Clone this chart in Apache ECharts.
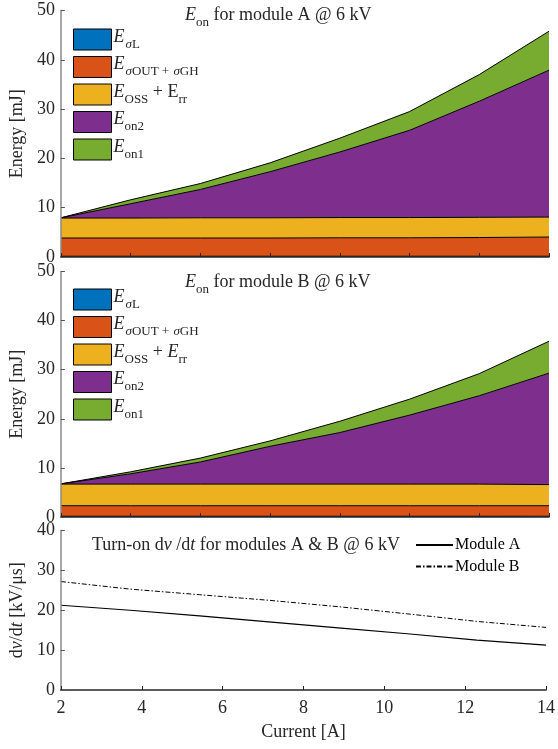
<!DOCTYPE html>
<html><head><meta charset="utf-8">
<script src="https://cdn.jsdelivr.net/npm/echarts@6/dist/echarts.min.js"></script>
<style>html,body{margin:0;padding:0;background:#fff}#c{width:558px;height:749px}</style>
</head><body><div id="c"></div>
<script>
// ---- data ----
const current = [2, 3.71, 5.43, 7.14, 8.86, 10.57, 12.29, 14];
const xTickLabels = [2, 4, 6, 8, 10, 12, 14];
const energyTicks = [0, 10, 20, 30, 40, 50];
const dvdtTicks = [0, 10, 20, 30, 40];

// Module A energy components [mJ] (stack order bottom -> top)
const A_sigmaL   = [0.15, 0.15, 0.15, 0.15, 0.15, 0.15, 0.15, 0.15];
const A_sigmaOut = [3.7, 3.7, 3.7, 3.7, 3.75, 3.75, 3.8, 3.9];
const A_oss      = [4.05, 4.05, 4.1, 4.1, 4.1, 4.1, 4.1, 4.05];
const A_on2      = [0.05, 2.9, 5.75, 9.35, 13.3, 17.7, 23.55, 29.8];
const A_on1      = [0.0, 0.8, 1.2, 1.8, 2.8, 3.8, 5.4, 7.9];

// Module B energy components [mJ]
const B_sigmaL   = [0.15, 0.15, 0.15, 0.15, 0.15, 0.15, 0.15, 0.15];
const B_sigmaOut = [2.15, 2.15, 2.15, 2.15, 2.15, 2.15, 2.15, 2.15];
const B_oss      = [4.4, 4.4, 4.4, 4.4, 4.4, 4.4, 4.4, 4.3];
const B_on2      = [0.05, 2.1, 4.5, 7.7, 10.5, 14.05, 18.0, 22.7];
const B_on1      = [0.0, 0.4, 0.8, 1.1, 2.3, 3.25, 4.5, 6.5];

// Turn-on dv/dt [kV/us]
const dvdtA = [21.25, 20.0, 18.6, 17.1, 15.6, 14.1, 12.5, 11.25];
const dvdtB = [27.2, 25.3, 23.9, 22.5, 20.9, 19.1, 17.2, 15.7];

// ---- styling ----
const FF = '"Liberation Serif","Times New Roman",serif';
const TXT = '#262626';
const COLORS = ['#0072BD', '#D95319', '#EDB120', '#7E2F8E', '#77AC30'];
const rich = {
  i:  {fontFamily: FF, fontSize: 18, fontStyle: 'italic', fontWeight: 'normal', color: TXT, lineHeight: 18, verticalAlign: 'top'},
  n:  {fontFamily: FF, fontSize: 18, fontWeight: 'normal', color: TXT, lineHeight: 18, verticalAlign: 'top'},
  s:  {fontFamily: FF, fontSize: 13, fontWeight: 'normal', color: TXT, verticalAlign: 'bottom', padding: [10, 0, 0, 0]},
  si: {fontFamily: FF, fontSize: 13, fontStyle: 'italic', fontWeight: 'normal', color: TXT, verticalAlign: 'bottom', padding: [10, 0, 0, 1]}
};

const namesA = ['A_sL', 'A_sOUT', 'A_OSS', 'A_on2', 'A_on1'];
const namesB = ['B_sL', 'B_sOUT', 'B_OSS', 'B_on2', 'B_on1'];
const legendText = {
  A_sL: '{i|E}{si|σ}{s|L}', B_sL: '{i|E}{si|σ}{s|L}',
  A_sOUT: '{i|E}{si|σ}{s|OUT + }{si|σ}{s|GH}', B_sOUT: '{i|E}{si|σ}{s|OUT + }{si|σ}{s|GH}',
  A_OSS: '{i|E}{s|OSS}{n| + E}{s|rr}', B_OSS: '{i|E}{s|OSS}{n| + }{i|E}{s|rr}',
  A_on2: '{i|E}{s|on2}', B_on2: '{i|E}{s|on2}',
  A_on1: '{i|E}{s|on1}', B_on1: '{i|E}{s|on1}'
};

const grids = [
  {left: 57, right: 9, top: 10.5, height: 246.5},
  {left: 57, right: 9, top: 271.5, height: 245.5},
  {left: 57, right: 9, top: 530.5, height: 159.5}
];

function catAxis(gi) {
  return {
    type: 'category', gridIndex: gi, data: current.map(String), boundaryGap: false, z: 5,
    axisLine: {lineStyle: {color: '#262626', width: 1.5}},
    axisTick: {inside: true, length: 4, lineStyle: {color: '#262626'}},
    axisLabel: {show: false}, splitLine: {show: false}
  };
}
function yAxisE(gi) {
  return {
    type: 'value', gridIndex: gi, min: energyTicks[0], max: energyTicks[energyTicks.length - 1], interval: 10, z: 5,
    name: 'Energy [mJ]', nameLocation: 'middle', nameGap: 30, nameRotate: 90,
    nameTextStyle: {fontFamily: FF, fontSize: 18, color: TXT},
    axisLine: {show: true, lineStyle: {color: '#8a8a8a', width: 1.5}},
    axisTick: {show: true, inside: true, length: 4, lineStyle: {color: '#555'}},
    axisLabel: {fontFamily: FF, fontSize: 18, color: TXT, margin: 6},
    splitLine: {show: false}
  };
}

function areaSeries(names, arrays, gi, stack) {
  return arrays.map((arr, k) => ({
    name: names[k], type: 'line', stack: stack, xAxisIndex: gi, yAxisIndex: gi,
    data: arr, symbol: 'none', smooth: false,
    lineStyle: {color: '#000', width: 1},
    itemStyle: {color: COLORS[k]},
    areaStyle: {color: COLORS[k], opacity: 1},
    emphasis: {disabled: true}
  }));
}

const legendCommon = {
  orient: 'vertical', left: 73, padding: 0, icon: 'rect', itemWidth: 38, itemHeight: 21, itemGap: 4.5,
  itemStyle: {borderColor: '#000', borderWidth: 1}, selectedMode: false,
  formatter: n => legendText[n], textStyle: {rich: rich, padding: [0, 0, 0, -3]}
};

const option = {
  animation: false,
  backgroundColor: '#fff',
  grid: grids,
  title: [
    {text: '{i|E}{s|on}{n| for module A @ 6 kV}', left: 185, top: 6, padding: 0, textStyle: {rich: rich, fontWeight: 'normal'}},
    {text: '{i|E}{s|on}{n| for module B @ 6 kV}', left: 185, top: 273, padding: 0, textStyle: {rich: rich, fontWeight: 'normal'}},
    {text: '{n|Turn-on d}{i|v}{n| /d}{i|t}{n| for modules A & B @ 6 kV}', left: 92, top: 536, padding: 0, textStyle: {rich: rich, fontWeight: 'normal'}}
  ],
  legend: [
    Object.assign({}, legendCommon, {top: 28, data: namesA}),
    Object.assign({}, legendCommon, {top: 288, data: namesB}),
    {orient: 'vertical', left: 415, top: 537, padding: 0, itemWidth: 37, itemHeight: 14, itemGap: 5.5, selectedMode: false,
     data: ['Module A', 'Module B'], itemStyle: {opacity: 0},
     textStyle: {fontFamily: FF, fontSize: 16, color: '#000', lineHeight: 16, padding: [0, 0, 0, -3]}}
  ],
  xAxis: [
    catAxis(0), catAxis(1),
    {type: 'value', gridIndex: 2, min: xTickLabels[0], max: xTickLabels[xTickLabels.length - 1], interval: 2, z: 5,
     name: 'Current [A]', nameLocation: 'middle', nameGap: 33,
     nameTextStyle: {fontFamily: FF, fontSize: 18, color: TXT},
     axisLine: {lineStyle: {color: '#262626', width: 1.5}},
     axisTick: {inside: true, length: 4, lineStyle: {color: '#262626'}},
     axisLabel: {fontFamily: FF, fontSize: 18, color: TXT, margin: 9},
     splitLine: {show: false}}
  ],
  yAxis: [
    yAxisE(0), yAxisE(1),
    {type: 'value', gridIndex: 2, min: dvdtTicks[0], max: dvdtTicks[dvdtTicks.length - 1], interval: 10, z: 5,
     name: '{n|d}{i|v}{n|/d}{i|t}{n| [kV/μs]}', nameLocation: 'middle', nameGap: 30, nameRotate: 90,
     nameTextStyle: {rich: rich},
     axisLine: {show: true, lineStyle: {color: '#8a8a8a', width: 1.5}},
     axisTick: {show: true, inside: true, length: 4, lineStyle: {color: '#555'}},
     axisLabel: {fontFamily: FF, fontSize: 18, color: TXT, margin: 6},
     splitLine: {show: false}}
  ],
  series: [
    ...areaSeries(namesA, [A_sigmaL, A_sigmaOut, A_oss, A_on2, A_on1], 0, 'A'),
    ...areaSeries(namesB, [B_sigmaL, B_sigmaOut, B_oss, B_on2, B_on1], 1, 'B'),
    {name: 'Module A', type: 'line', xAxisIndex: 2, yAxisIndex: 2, symbol: 'none',
     data: current.map((c, i) => [c, dvdtA[i]]),
     lineStyle: {color: '#000', width: 1.2, type: 'solid'}, itemStyle: {color: '#000'}, emphasis: {disabled: true}},
    {name: 'Module B', type: 'line', xAxisIndex: 2, yAxisIndex: 2, symbol: 'none',
     data: current.map((c, i) => [c, dvdtB[i]]),
     lineStyle: {color: '#000', width: 1, type: [5, 2, 1.5, 2]}, itemStyle: {color: '#000'}, emphasis: {disabled: true}}
  ]
};
const chart = echarts.init(document.getElementById('c'), null, {renderer: 'canvas'});
chart.setOption(option);
</script></body></html>
